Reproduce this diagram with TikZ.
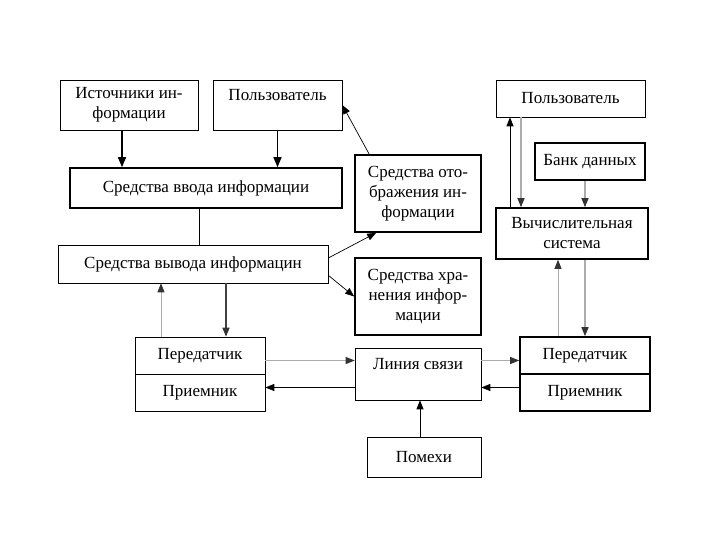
\documentclass[tikz,border=0pt]{standalone}
\usepackage{fontspec}
\setmainfont{Liberation Serif}
\usepackage{tikz}
\usetikzlibrary{arrows.meta}

\tikzset{
	blk/.style={draw, line width=0.6pt, align=center, inner sep=0pt,
		font=\fontsize{17}{20}\selectfont},
	blkthick/.style={blk, line width=1.6pt},
	arr/.style={line width=0.7pt, -{Triangle[length=9pt,width=7pt]}},
	arrthick/.style={arr, line width=1.4pt, -{Triangle[length=10pt,width=8pt]}},
	arrgray/.style={arr, draw=gray!65, line width=1.1pt, -{Triangle[length=9pt,width=7pt,color=black!80]}},
}

\begin{document}
\begin{tikzpicture}[x=1pt, y=-1pt]
	\useasboundingbox (0,0) rectangle (720,540);
	% left part
	\node[blk, minimum width=138pt, minimum height=50pt] (src) at (129,105) {Источники ин-\\формации};
	\node[blk, minimum width=129pt, minimum height=50pt] (userL) at (277.5,105) {Пользователь\\\mbox{}};
	\node[blkthick, minimum width=272pt, minimum height=40pt] (inp) at (206,188) {Средства ввода информации};
	\node[blk, minimum width=270pt, minimum height=38pt] (outp) at (193,264) {Средства вывода информацин};
	\node[blkthick, minimum width=126pt, minimum height=77pt] (disp) at (418,193.5) {Средства ото-\\бражения ин-\\формации};
	\node[blkthick, minimum width=126pt, minimum height=77pt] (stor) at (418,296.5) {Средства хра-\\нения инфор-\\мации};
	\node[blk, minimum width=130pt, minimum height=37pt] (txL) at (200,355.5) {Передатчик};
	\node[blk, minimum width=130pt, minimum height=37pt] (rxL) at (200,392.5) {Приемник};
	\draw[line width=1.6pt] (txL.south west) -- (txL.south east);
	% middle
	\node[blk, minimum width=126pt, minimum height=52pt] (link) at (418,374) {Линия связи\\\mbox{}};
	\node[blk, minimum width=114pt, minimum height=40pt] (noise) at (424,457) {Помехи};
	% right part
	\node[blk, minimum width=149pt, minimum height=37pt] (userR) at (570.5,98.5) {Пользователь};
	\node[blk, line width=1.2pt, minimum width=110pt, minimum height=37pt] (bank) at (590,161.5) {Банк данных};
	\node[blkthick, minimum width=152pt, minimum height=51pt] (comp) at (572,233.5) {Вычислительная\\система};
	\node[blkthick, minimum width=130pt, minimum height=37pt] (txR) at (585,355.5) {Передатчик};
	\node[blkthick, minimum width=130pt, minimum height=37pt] (rxR) at (585,392.5) {Приемник};

	\draw[arrthick] ([xshift=-7pt]src.south) -- ([xshift=-7pt]src.south |- inp.north);
	\draw[arrthick] (userL.south) -- (userL.south |- inp.north);
	\draw[line width=0.7pt] ([xshift=-7pt]inp.south) -- ([xshift=-7pt]inp.south |- outp.north);
	\draw[arr] ([xshift=15pt]disp.north west) -- (userL.east);
	\draw[arr] ([yshift=6pt]outp.east) -- ([xshift=22pt]disp.south west);
	\draw[arr] ([yshift=8pt]outp.south east) -- (stor.west);
	\draw[arrgray, line width=0.7pt] ([xshift=-39pt]txL.north) -- ([xshift=-39pt]txL.north |- outp.south);
	\draw[arrgray, draw=gray!50!black, line width=1.3pt] ([xshift=26pt]txL.north |- outp.south) -- ([xshift=26pt]txL.north);
	\draw[arrgray] ([yshift=-5pt]txL.east) -- ([yshift=-5pt]txL.east -| link.west);
	\draw[arr] ([yshift=5pt]rxL.east -| link.west) -- ([yshift=5pt]rxL.east);
	\draw[arrgray] ([yshift=-5pt]txR.west -| link.east) -- ([yshift=-5pt]txR.west);
	\draw[arr] ([yshift=5pt]rxR.west) -- ([yshift=5pt]rxR.west -| link.east);
	\draw[arr] ([xshift=-4pt]noise.north) -- ([xshift=-4pt]noise.north |- link.south);
	\draw[arrgray, line width=0.7pt] ([xshift=-27pt]txR.north) -- ([xshift=-27pt]txR.north |- comp.south);
	\draw[arrgray, line width=1.3pt] (txR.north |- comp.south) -- (txR.north);
	\draw[arr] ([xshift=-62pt]comp.north) -- ([xshift=-62pt]comp.north |- userR.south);
	\draw[arrgray] ([xshift=-51pt]comp.north |- userR.south) -- ([xshift=-51pt]comp.north);
	\draw[arrgray] ([xshift=-5pt]bank.south) -- ([xshift=-5pt]bank.south |- comp.north);
\end{tikzpicture}
\end{document}
